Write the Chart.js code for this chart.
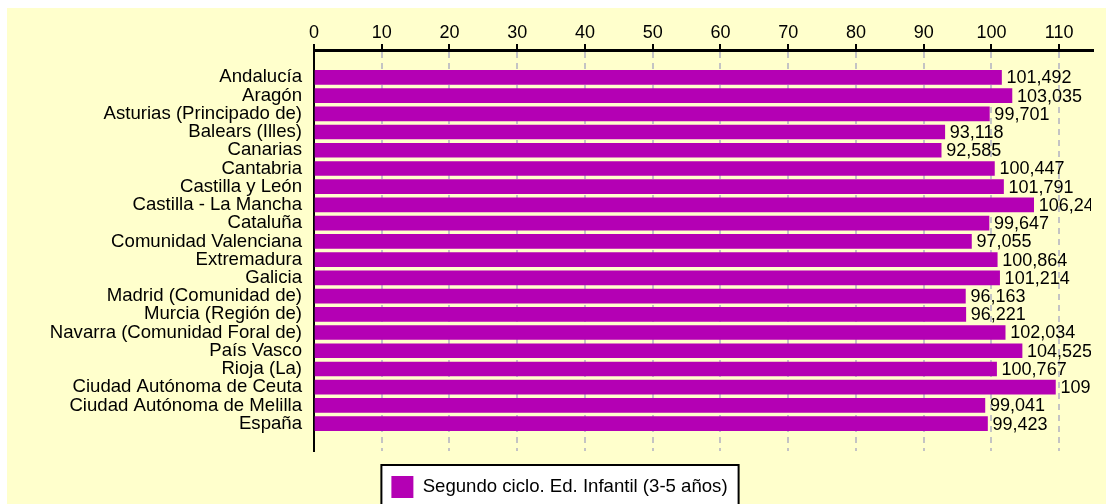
<!DOCTYPE html>
<html>
<head>
<meta charset="utf-8">
<script src="https://cdn.jsdelivr.net/npm/chart.js@4/dist/chart.umd.min.js"></script>
<style>
  html, body { margin: 0; padding: 0; background: #ffffff; overflow: hidden; width: 1106px; height: 504px; }
  #panel { position: absolute; left: 7px; top: 8px; width: 1099px; height: 510px; background: #FFFFCC; }
  canvas { display: block; }
</style>
</head>
<body>
<div id="panel"><canvas id="c" width="1099" height="510"></canvas></div>
<script>
const regions = [
  "Andalucía", "Aragón", "Asturias (Principado de)", "Balears (Illes)", "Canarias",
  "Cantabria", "Castilla y León", "Castilla - La Mancha", "Cataluña", "Comunidad Valenciana",
  "Extremadura", "Galicia", "Madrid (Comunidad de)", "Murcia (Región de)",
  "Navarra (Comunidad Foral de)", "País Vasco", "Rioja (La)", "Ciudad Autónoma de Ceuta",
  "Ciudad Autónoma de Melilla", "España"
];
const values = [
  101.492, 103.035, 99.701, 93.118, 92.585,
  100.447, 101.791, 106.243, 99.647, 97.055,
  100.864, 101.214, 96.163, 96.221,
  102.034, 104.525, 100.767, 109.452,
  99.041, 99.423
];
const xTicks = [0, 10, 20, 30, 40, 50, 60, 70, 80, 90, 100, 110];
const seriesLabel = "Segundo ciclo. Ed. Infantil (3-5 años)";

const FONT = "'Liberation Sans', Arial, sans-serif";
const FS = 18;
const FS_TXT = 18.6;
const barColor = "#B400B4";

const valueLabels = {
  id: 'valueLabels',
  afterDatasetsDraw(chart) {
    const ctx = chart.ctx;
    const area = chart.chartArea;
    const meta = chart.getDatasetMeta(0);
    ctx.save();
    ctx.beginPath();
    ctx.rect(area.left, area.top, area.right - area.left - 2, area.bottom - area.top);
    ctx.clip();
    ctx.font = FS + "px " + FONT;
    ctx.fillStyle = "#000";
    ctx.textAlign = "left";
    ctx.textBaseline = "middle";
    meta.data.forEach((bar, i) => {
      const txt = values[i].toFixed(3).replace('.', ',');
      ctx.fillText(txt, bar.x + 5, bar.y + 1);
    });
    ctx.restore();
  }
};

const legendFrame = {
  id: 'legendFrame',
  beforeDraw(chart) {
    const lg = chart.legend;
    if (!lg || !lg.legendHitBoxes || !lg.legendHitBoxes.length) return;
    const hb = lg.legendHitBoxes[0];
    const ctx = chart.ctx;
    const l = hb.left - 10, t = hb.top - 11, r = hb.left + hb.width + 11, b = hb.top + hb.height + 40;
    ctx.save();
    ctx.fillStyle = "#ffffff";
    ctx.fillRect(l, t, r - l, b - t);
    ctx.strokeStyle = "#000";
    ctx.lineWidth = 2;
    ctx.strokeRect(l, t, r - l, b - t);
    ctx.restore();
  }
};

new Chart(document.getElementById('c'), {
  type: 'bar',
  data: {
    datasets: [{
      label: seriesLabel,
      data: values.map((v, i) => ({ x: v, y: i })),
      backgroundColor: barColor,
      borderWidth: 0,
      barThickness: 14
    }]
  },
  options: {
    indexAxis: 'y',
    responsive: false,
    animation: false,
    devicePixelRatio: 1,
    layout: { padding: { top: 0, right: 13, left: 19, bottom: 10 } },
    scales: {
      x: {
        type: 'linear',
        position: 'top',
        min: 0,
        max: 115,
        afterBuildTicks: (s) => { s.ticks = xTicks.map(v => ({ value: v })); },
        afterFit: (s) => { s.height = 42; },
        ticks: { color: '#000', font: { family: FONT, size: FS }, padding: 0, maxRotation: 0, autoSkip: false },
        grid: {
          color: '#c4c4c4', lineWidth: 2, drawTicks: true, tickLength: 6,
          tickColor: '#000', tickWidth: 2, tickBorderDash: []
        },
        border: { display: true, color: '#000', width: 3, dash: [6, 5] }
      },
      y: {
        type: 'linear',
        reverse: true,
        offset: false,
        min: -1.5,
        max: 20.5,
        afterBuildTicks: (s) => { s.ticks = regions.map((_, i) => ({ value: i })); },
        afterFit: (s) => { s.width = 288; },
        ticks: {
          color: '#000', font: { family: FONT, size: FS_TXT }, padding: 12, autoSkip: false,
          callback: (v) => regions[v]
        },
        grid: { display: false, drawTicks: false, offset: false },
        border: { display: true, color: '#000', width: 2 }
      }
    },
    plugins: {
      legend: {
        position: 'bottom',
        labels: {
          color: '#000', font: { family: FONT, size: FS_TXT },
          boxWidth: 22, boxHeight: 22, padding: 25
        }
      },
      tooltip: { enabled: false }
    }
  },
  plugins: [valueLabels, legendFrame]
});
</script>
</body>
</html>
